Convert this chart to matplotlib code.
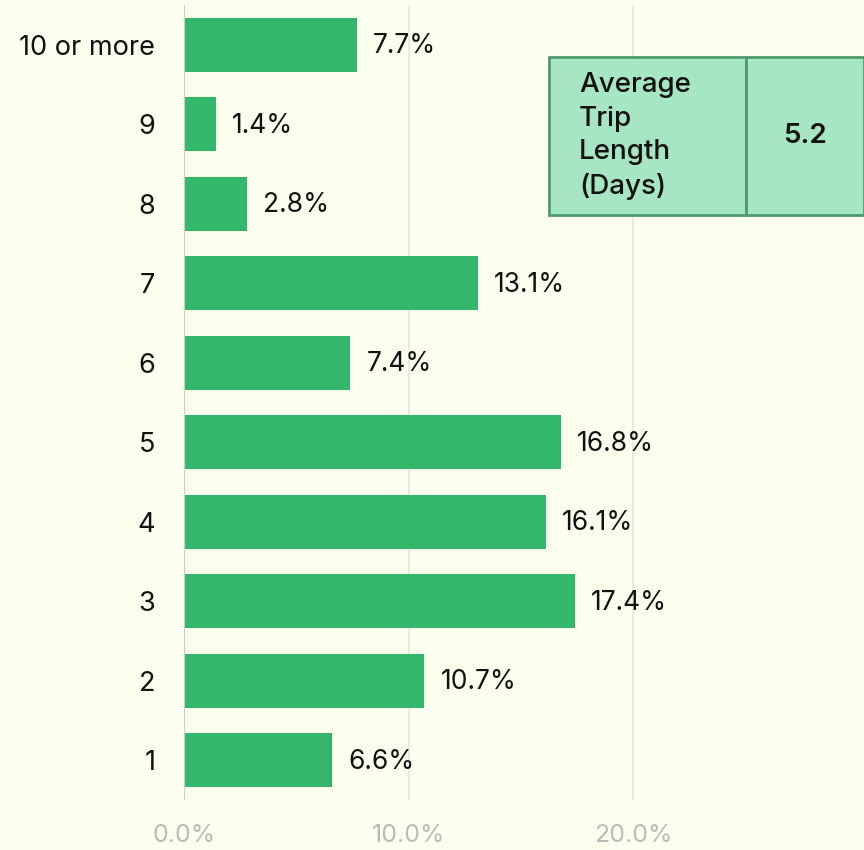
import matplotlib.pyplot as plt
from matplotlib.ticker import FuncFormatter

# data
trip_days = ["1", "2", "3", "4", "5", "6", "7", "8", "9", "10 or more"]
share_pct = [6.6, 10.7, 17.4, 16.1, 16.8, 7.4, 13.1, 2.8, 1.4, 7.7]
summary_label = "Average\nTrip\nLength\n(Days)"
summary_value = "5.2"

bg = "#FCFFEE"
bar_color = "#33B76A"

plt.rcParams['font.family'] = ['Inter', 'DejaVu Sans']

fig = plt.figure(figsize=(8.64, 8.5), dpi=100, facecolor=bg)
ax = fig.add_axes([0.2135, 0.0588, 0.7865, 0.9353])
ax.set_facecolor(bg)

y = list(range(len(trip_days)))
ax.barh(y, share_pct, height=0.68, color=bar_color, zorder=3)

for yi, v in zip(y, share_pct):
    ax.annotate(f"{v}%", (v, yi), xytext=(11.5, -1), textcoords="offset points",
                va="center", ha="left", fontsize=19, color="#111111")

ax.set_xlim(0, 30.3)
ax.set_ylim(-0.5, len(trip_days) - 0.5)
ax.set_yticks(y)
ax.set_yticklabels(trip_days, fontsize=19.5, color="#111111")
ax.set_xticks([0, 10, 20])
ax.xaxis.set_major_formatter(FuncFormatter(lambda v, _: f"{v:.1f}%"))
ax.tick_params(axis="x", length=0, pad=17, labelsize=18, labelcolor="#BBBBBB")
ax.tick_params(axis="y", length=0, pad=21)

ax.grid(axis="x", color="#E6E6E6", linewidth=1.2, zorder=0)
ax.axvline(0, color="#CCCCCC", linewidth=1.5, zorder=4)
for s in ax.spines.values():
    s.set_visible(False)

# summary table
tbl = ax.table(cellText=[[summary_label, summary_value]],
               bbox=[0.537, 0.7358, 0.463, 0.1988],
               colWidths=[0.625, 0.375], cellLoc="center")
tbl.auto_set_font_size(False)
for (r, c), cell in tbl.get_celld().items():
    cell.set_facecolor("#A6E6C2")
    cell.set_edgecolor("#4E9A6A")
    cell.set_linewidth(2)
    cell.get_text().set_fontsize(20)
    cell.get_text().set_fontweight("medium")
    cell.get_text().set_linespacing(1.38)
    cell.get_text().set_color("#111111")
    if c == 0:
        cell.PAD = 0.15
        cell.set_text_props(ha="left")
        cell._loc = "left"
    else:
        cell.get_text().set_fontweight("semibold")
tbl.set_zorder(5)

fig.savefig("out.png", dpi=100, facecolor=bg)
